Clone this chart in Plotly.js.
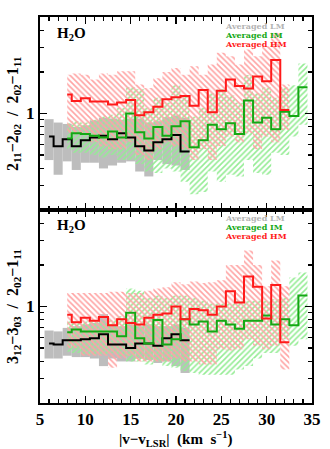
<!DOCTYPE html>
<html>
<head>
<meta charset="utf-8">
<script src="https://cdn.plot.ly/plotly-3.0.1.min.js"></script>
<style>
  html, body { margin: 0; padding: 0; background: white; }
  #graph { width: 330px; height: 449px; }
</style>
</head>
<body>
<div id="graph"></div>
<script>
// bin centres, km/s
const binsLM = [6, 7, 8, 9, 10, 11, 12, 13, 14, 15, 16, 17, 18, 19, 20, 21];
const binsIM = [8, 9, 10, 11, 12, 13, 14, 15, 16, 17, 18, 19, 20, 21, 22, 23, 24, 25, 26, 27, 28, 29, 30, 31, 32, 33, 34];
const binsHM = [8, 9, 10, 11, 12, 13, 14, 15, 16, 17, 18, 19, 20, 21, 22, 23, 24, 25, 26, 27, 28, 29, 30, 31, 32];

// upper panel: 2_11-2_02 / 2_02-1_11
const lmTop   = [0.68, 0.58, 0.65, 0.58, 0.64, 0.67, 0.69, 0.65, 0.72, 0.67, 0.58, 0.54, 0.62, 0.65, 0.70, 0.53];
const lmTopHi = [0.91, 0.86, 0.84, 0.80, 0.82, 0.89, 0.93, 0.92, 0.90, 0.92, 0.92, 0.86, 0.88, 0.94, 0.97, 0.93];
const lmTopLo = [0.46, 0.36, 0.45, 0.39, 0.44, 0.44, 0.40, 0.42, 0.44, 0.45, 0.38, 0.35, 0.46, 0.43, 0.42, 0.39];

const imTop   = [0.66, 0.72, 0.71, 0.69, 0.67, 0.74, 0.67, 1.00, 0.73, 0.66, 0.80, 0.69, 0.81, 0.88, 0.57, 0.64, 0.83, 0.77, 0.85, 0.71, 1.24, 0.86, 0.93, 0.77, 1.03, 0.96, 1.55];
const imTopHi = [0.85, 0.88, 0.86, 0.90, 0.95, 0.98, 1.10, 1.55, 1.50, 1.10, 1.30, 1.20, 1.60, 1.35, 0.95, 1.10, 1.40, 1.50, 1.35, 1.20, 1.90, 1.40, 1.55, 1.30, 1.55, 1.60, 2.30];
const imTopLo = [0.55, 0.52, 0.52, 0.50, 0.48, 0.50, 0.46, 0.46, 0.43, 0.38, 0.37, 0.40, 0.38, 0.32, 0.26, 0.27, 0.38, 0.32, 0.36, 0.35, 0.46, 0.37, 0.36, 0.52, 0.50, 0.68, 0.83];

const hmTop   = [1.37, 1.23, 1.29, 1.22, 1.22, 1.16, 1.20, 1.25, 0.97, 1.02, 1.12, 1.27, 1.31, 1.34, 1.14, 1.48, 1.02, 1.46, 1.76, 1.58, 1.52, 1.85, 1.71, 2.44, 1.06];
const hmTopHi = [1.91, 1.95, 1.91, 1.76, 1.95, 1.91, 2.02, 2.02, 1.62, 1.53, 1.80, 2.00, 2.14, 1.91, 2.20, 1.91, 2.26, 2.75, 2.60, 2.26, 2.91, 2.60, 3.07, 3.84, 1.62];
const hmTopLo = [0.72, 0.72, 0.72, 0.62, 0.58, 0.55, 0.55, 0.62, 0.50, 0.46, 0.55, 0.62, 0.58, 0.55, 0.46, 0.55, 0.46, 0.58, 0.68, 0.62, 0.72, 0.55, 0.68, 0.62, 0.76];

// lower panel: 3_12-3_03 / 2_02-1_11
const lmBot   = [0.54, 0.53, 0.57, 0.57, 0.58, 0.59, 0.63, 0.53, 0.53, 0.50, 0.54, 0.54, 0.52, 0.59, 0.63, 0.57];
const lmBotHi = [0.67, 0.66, 0.70, 0.72, 0.74, 0.76, 0.88, 0.74, 0.72, 0.74, 0.72, 0.74, 0.72, 0.72, 0.74, 0.70];
const lmBotLo = [0.42, 0.42, 0.44, 0.43, 0.43, 0.42, 0.37, 0.42, 0.40, 0.40, 0.42, 0.41, 0.39, 0.40, 0.37, 0.33];

const imBot   = [0.65, 0.68, 0.66, 0.66, 0.66, 0.66, 0.61, 0.90, 0.59, 0.54, 0.80, 0.53, 0.58, 0.81, 0.74, 0.78, 0.66, 0.79, 0.74, 0.69, 0.79, 0.79, 0.86, 0.74, 0.81, 0.73, 1.20];
const imBotHi = [0.78, 0.78, 0.78, 0.78, 0.78, 0.80, 0.85, 1.35, 1.30, 1.15, 1.20, 1.15, 1.20, 1.20, 1.15, 1.10, 1.05, 1.05, 1.05, 1.10, 1.10, 1.10, 1.10, 1.13, 1.16, 1.62, 1.76];
const imBotLo = [0.47, 0.46, 0.45, 0.45, 0.45, 0.46, 0.44, 0.40, 0.40, 0.38, 0.40, 0.37, 0.36, 0.34, 0.33, 0.32, 0.32, 0.32, 0.32, 0.35, 0.37, 0.42, 0.46, 0.46, 0.58, 0.52, 0.58];

const hmBot   = [0.87, 0.77, 0.83, 0.79, 0.84, 0.73, 0.81, 0.76, 0.74, 0.83, 0.87, 0.89, 1.00, 0.81, 0.96, 0.94, 0.87, 1.00, 1.29, 1.07, 1.65, 1.39, 0.82, 1.43, 0.55];
const hmBotHi = [1.25, 1.25, 1.25, 1.25, 1.25, 1.28, 1.28, 1.25, 1.25, 1.30, 1.35, 1.38, 1.50, 1.45, 1.52, 1.48, 1.50, 1.55, 2.00, 2.00, 2.54, 2.00, 1.40, 2.15, 1.40];
const hmBotLo = [0.50, 0.50, 0.44, 0.44, 0.44, 0.36, 0.42, 0.44, 0.40, 0.40, 0.40, 0.40, 0.42, 0.40, 0.40, 0.38, 0.38, 0.49, 0.48, 0.49, 0.58, 0.52, 0.49, 0.52, 0.35];

const GREY = '#b4b4b4', GREEN = '#14a814', RED = '#ff1a1a';
const FONT = 'Liberation Serif';

// histogram path: starts at first centre, steps at the bin edges, ends at the last edge
const stepX = c => [c[0]].concat(c.map(v => v + 0.5));
const stepY = v => v.concat([v[v.length - 1]]);

function band(c, lo, hi, xa, ya, shape, col) {
  return [
    { x: stepX(c), y: stepY(lo), xaxis: xa, yaxis: ya, type: 'scatter', mode: 'lines',
      line: { shape: 'hv', width: 0, color: 'rgba(0,0,0,0)' }, hoverinfo: 'skip' },
    { x: stepX(c), y: stepY(hi), xaxis: xa, yaxis: ya, type: 'scatter', mode: 'lines',
      line: { shape: 'hv', width: 0, color: 'rgba(0,0,0,0)' }, fill: 'tonexty',
      fillcolor: 'rgba(0,0,0,0)',
      fillpattern: { shape: shape, fgcolor: col, bgcolor: 'rgba(0,0,0,0)', size: 4, solidity: 0.4 },
      hoverinfo: 'skip' }
  ];
}

function hist(c, v, xa, ya, col) {
  return { x: stepX(c), y: stepY(v), xaxis: xa, yaxis: ya, type: 'scatter', mode: 'lines',
    line: { shape: 'hv', width: 2, color: col } };
}

function greyBars(c, lo, hi, xa, ya) {
  return { x: c, base: lo, y: hi.map((h, i) => h - lo[i]), width: 1, xaxis: xa, yaxis: ya,
    type: 'bar', marker: { color: '#bdbdbd', line: { width: 0 } }, hoverinfo: 'skip' };
}

const data = [
  greyBars(binsLM, lmTopLo, lmTopHi, 'x2', 'y2'),
  greyBars(binsLM, lmBotLo, lmBotHi, 'x', 'y'),
  ...band(binsIM, imTopLo, imTopHi, 'x2', 'y2', '/', '#94ec94'),
  ...band(binsHM, hmTopLo, hmTopHi, 'x2', 'y2', '\\', '#ffa3a3'),
  ...band(binsIM, imBotLo, imBotHi, 'x', 'y', '/', '#94ec94'),
  ...band(binsHM, hmBotLo, hmBotHi, 'x', 'y', '\\', '#ffa3a3'),
  hist(binsLM, lmTop, 'x2', 'y2', 'black'),
  hist(binsIM, imTop, 'x2', 'y2', GREEN),
  hist(binsHM, hmTop, 'x2', 'y2', RED),
  hist(binsLM, lmBot, 'x', 'y', 'black'),
  hist(binsIM, imBot, 'x', 'y', GREEN),
  hist(binsHM, hmBot, 'x', 'y', RED)
];

const minorY = [0.2, 0.3, 0.4, 0.5, 0.6, 0.7, 0.8, 0.9, 2, 3, 4, 5];

const xBase = {
  range: [5, 35], tickvals: [5, 10, 15, 20, 25, 30, 35], ticks: 'inside', ticklen: 7, tickwidth: 1.5,
  tickcolor: 'black', showline: true, linewidth: 2, linecolor: 'black', mirror: 'ticks',
  showgrid: false, zeroline: false, fixedrange: true,
  minor: { dtick: 1, ticks: 'inside', ticklen: 4, tickwidth: 1.2, tickcolor: 'black', showgrid: false },
  tickfont: { family: FONT, size: 17, weight: 'bold', color: 'black' }
};
const yBase = {
  type: 'log', range: [Math.log10(0.2), Math.log10(5)], tickvals: [1], ticktext: ['1'],
  ticks: 'inside', ticklen: 7, tickwidth: 1.5, tickcolor: 'black', showline: true, linewidth: 2,
  linecolor: 'black', mirror: 'ticks', showgrid: false, zeroline: false, fixedrange: true,
  minor: { tickmode: 'array', tickvals: minorY, ticks: 'inside', ticklen: 4, tickwidth: 1.2,
    tickcolor: 'black', showgrid: false },
  tickfont: { family: FONT, size: 17, weight: 'bold', color: 'black' }
};

const tx = (text, x, y, size, color, extra) => Object.assign({
  text: text, xref: 'paper', yref: 'paper', x: x, y: y, showarrow: false,
  xanchor: 'left', yanchor: 'middle',
  font: { family: FONT, size: size, weight: 'bold', color: color }
}, extra || {});

const legendFont = (color) => ({ font: { family: 'DejaVu Serif', size: 8, weight: 'bold', color: color } });

const layout = {
  width: 330, height: 449,
  margin: { l: 40, r: 18, t: 17, b: 46 },
  paper_bgcolor: 'white', plot_bgcolor: 'white',
  showlegend: false, barmode: 'overlay',
  xaxis: Object.assign({}, xBase, { anchor: 'y' }),
  xaxis2: Object.assign({}, xBase, { anchor: 'y2', matches: 'x', showticklabels: false }),
  yaxis: Object.assign({}, yBase, { domain: [0, 0.5], anchor: 'x' }),
  yaxis2: Object.assign({}, yBase, { domain: [0.5, 1], anchor: 'x2' }),
  annotations: [
    tx('H<sub>2</sub>O', 0.055, 0.956, 15, 'black'),
    tx('H<sub>2</sub>O', 0.055, 0.458, 15, 'black'),
    tx('Averaged LM', 0.673, 0.977, 8, GREY, legendFont(GREY)),
    tx('Averaged IM', 0.673, 0.953, 8, GREEN, legendFont(GREEN)),
    tx('Averaged HM', 0.673, 0.930, 8, RED, legendFont(RED)),
    tx('Averaged LM', 0.673, 0.479, 8, GREY, legendFont(GREY)),
    tx('Averaged IM', 0.673, 0.456, 8, GREEN, legendFont(GREEN)),
    tx('Averaged HM', 0.673, 0.433, 8, RED, legendFont(RED)),
    tx('2<sub>11</sub>\u22122<sub>02</sub>  /  2<sub>02</sub>\u22121<sub>11</sub>', -0.1, 0.751, 16, 'black',
      { xanchor: 'center', textangle: -90 }),
    tx('3<sub>12</sub>\u22123<sub>03</sub>  /  2<sub>02</sub>\u22121<sub>11</sub>', -0.1, 0.251, 16, 'black',
      { xanchor: 'center', textangle: -90 }),
    tx('|v\u2212v<sub>LSR</sub>|  (km  s<sup>\u22121</sup>)', 0.5, -0.092, 15, 'black',
      { xanchor: 'center' })
  ]
};

Plotly.newPlot('graph', data, layout, { staticPlot: true, displayModeBar: false });
</script>
</body>
</html>
